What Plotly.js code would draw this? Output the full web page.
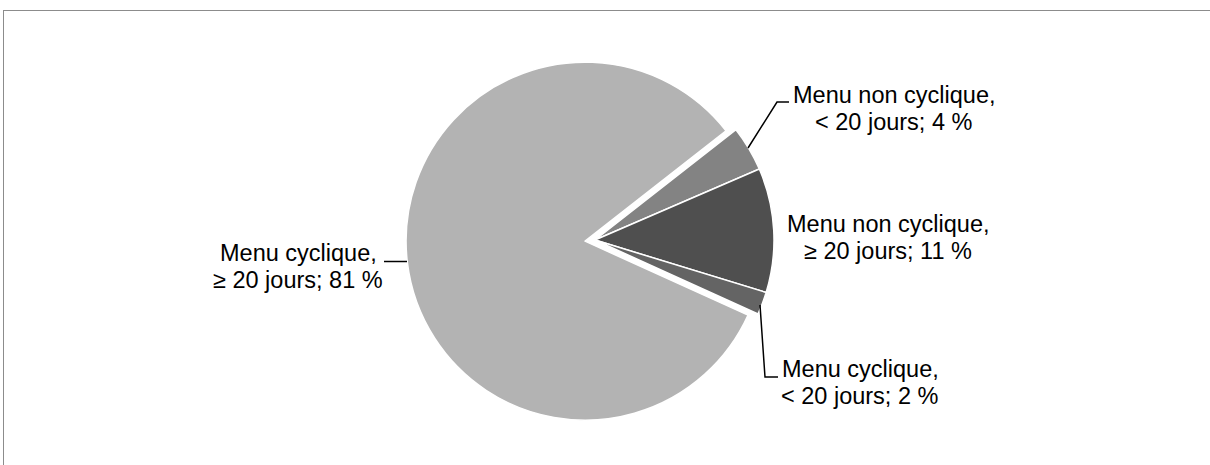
<!DOCTYPE html>
<html><head><meta charset="utf-8">
<script src="https://cdn.plot.ly/plotly-3.0.1.min.js"></script>
<style>html,body{margin:0;padding:0;background:#fff}</style>
</head><body><div id="chart" style="width:1210px;height:465px"></div>
<script>
// ---- data ----
const menuTypes = ["Menu cyclique,", "Menu non cyclique,", "Menu non cyclique,", "Menu cyclique,"];
const durations = ["≥ 20 jours", "< 20 jours", "≥ 20 jours", "< 20 jours"];
const shares = [81, 4, 11, 2];
const sliceColors = ["#b3b3b3", "#838383", "#4f4f4f", "#646464"];

// ---- layout helpers ----
const W = 1210, H = 465;
const px = x => x / W, py = y => 1 - y / H;
const FS = 23.5;
const FONT = "Liberation Sans, Arial, sans-serif";
const labelPos = [
  {x: 298, b1: 261.5, b2: 288},
  {x: 894, b1: 103, b2: 130},
  {x: 888, b1: 232, b2: 259},
  {x: 860, b1: 377, b2: 404}
];
const leaders = [
  [[384, 261.5], [407, 261.5]],
  [[748, 148], [777, 102], [789, 102]],
  null,
  [[760, 305], [765, 377], [778, 377]]
];

const annotations = [];
shares.forEach((v, i) => {
  const p = labelPos[i];
  const lines = [menuTypes[i], durations[i] + "; " + v + " %"];
  [p.b1, p.b2].forEach((b, k) => {
    annotations.push({
      xref: "paper", yref: "paper", x: px(p.x), y: py(b - 0.3465 * FS),
      xanchor: "center", yanchor: "middle", showarrow: false,
      text: lines[k], font: {family: FONT, size: FS, color: "#000"}
    });
  });
});

const shapes = [
  {type: "line", xref: "paper", yref: "paper", x0: px(3), x1: px(1210), y0: py(10.5), y1: py(10.5), line: {color: "#8c8c8c", width: 1}},
  {type: "line", xref: "paper", yref: "paper", x0: px(3.5), x1: px(3.5), y0: py(10), y1: py(465), line: {color: "#8c8c8c", width: 1}}
];
leaders.forEach(pts => {
  if (!pts) return;
  const path = pts.map((q, j) => (j ? "L" : "M") + px(q[0]) + "," + py(q[1])).join(" ");
  shapes.push({type: "path", xref: "paper", yref: "paper", path: path, line: {color: "#000", width: 1.5}});
});

const trace = {
  type: "pie",
  values: shares,
  labels: shares.map((v, i) => menuTypes[i] + " " + durations[i]),
  sort: false,
  direction: "clockwise",
  rotation: 114.4,
  pull: [0.0559, 0, 0, 0],
  marker: {colors: sliceColors, line: {color: "#ffffff", width: 1.5}},
  textinfo: "none",
  hoverinfo: "skip",
  showlegend: false,
  domain: {x: [0.31174, 0.67174], y: [0.07742, 0.89032]}
};

Plotly.newPlot("chart", [trace], {
  width: W, height: H,
  margin: {l: 0, r: 0, t: 0, b: 0},
  paper_bgcolor: "#ffffff",
  showlegend: false,
  annotations: annotations,
  shapes: shapes
}, {displayModeBar: false, staticPlot: true});
</script>
</body></html>
